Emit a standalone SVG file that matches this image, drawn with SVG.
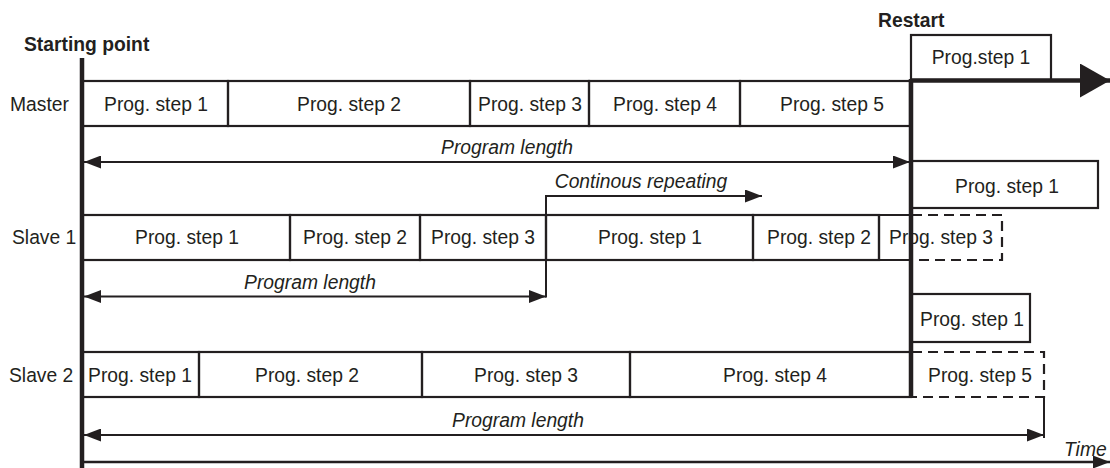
<svg xmlns="http://www.w3.org/2000/svg" width="1110" height="468" viewBox="0 0 1110 468">
<style>
text{font-family:"Liberation Sans",Arial,sans-serif;font-size:19.3px;fill:#231f20}
.c{text-anchor:middle}
.b{font-weight:bold}
.i{font-style:italic}
.box{fill:none;stroke:#231f20;stroke-width:2.2}
.dash{fill:none;stroke:#231f20;stroke-width:2.2;stroke-dasharray:10 6}
.ln{fill:none;stroke:#231f20;stroke-width:2}
.thick{fill:none;stroke:#231f20;stroke-width:4.5}
</style>
<defs>
<marker id="ah" viewBox="0 0 17 13" refX="17" refY="6.5" markerWidth="17" markerHeight="13" markerUnits="userSpaceOnUse" orient="auto-start-reverse">
<path d="M0,0 L17,6.5 L0,13 z" fill="#231f20"/>
</marker>
<marker id="big" viewBox="0 0 30 34" refX="30" refY="17" markerWidth="30" markerHeight="34" markerUnits="userSpaceOnUse" orient="auto">
<path d="M0,0 L30,17 L0,34 z" fill="#231f20"/>
</marker>
</defs>
<rect width="1110" height="468" fill="#fff"/>

<g id="labels">
<text class="b" x="24" y="51">Starting point</text>
<text class="b" x="878" y="27">Restart</text>
<text x="10" y="111">Master</text>
<text x="12" y="244">Slave 1</text>
<text x="9" y="382">Slave 2</text>
<text class="i" x="1064" y="456">Time</text>
</g>

<g id="master">
<g id="m1"><rect class="box" x="82" y="81" width="146" height="45"/><text class="c" x="156" y="111">Prog. step 1</text></g>
<g id="m2"><rect class="box" x="228" y="81" width="242" height="45"/><text class="c" x="349" y="111">Prog. step 2</text></g>
<g id="m3"><rect class="box" x="470" y="81" width="119" height="45"/><text class="c" x="530" y="111">Prog. step 3</text></g>
<g id="m4"><rect class="box" x="589" y="81" width="151" height="45"/><text class="c" x="665" y="111">Prog. step 4</text></g>
<g id="m5"><rect class="box" x="740" y="81" width="170" height="45"/><text class="c" x="832" y="111">Prog. step 5</text></g>
<g id="mr1"><rect class="box" x="911" y="35" width="140" height="45"/><text class="c" x="981" y="64">Prog.step 1</text></g>
</g>

<g id="slave1">
<g id="s1a"><rect class="box" x="82" y="215" width="208" height="45"/><text class="c" x="187" y="244">Prog. step 1</text></g>
<g id="s1b"><rect class="box" x="290" y="215" width="130" height="45"/><text class="c" x="355" y="244">Prog. step 2</text></g>
<g id="s1c"><rect class="box" x="420" y="215" width="126" height="45"/><text class="c" x="483" y="244">Prog. step 3</text></g>
<g id="s1d"><rect class="box" x="546" y="215" width="207" height="45"/><text class="c" x="650" y="244">Prog. step 1</text></g>
<g id="s1e"><rect class="box" x="753" y="215" width="126" height="45"/><text class="c" x="819" y="244">Prog. step 2</text></g>
<g id="s1f"><path class="box" d="M879,215 V260 M879,215 H912 M879,260 H912"/><path class="dash" d="M912,215 H1002 V260 H912"/><text class="c" x="941" y="244">Prog. step 3</text></g>
<g id="s1r"><rect class="box" x="911" y="161" width="187" height="47"/><text class="c" x="1007" y="193">Prog. step 1</text></g>
</g>

<g id="slave2">
<g id="s2a"><rect class="box" x="82" y="352" width="117" height="45"/><text class="c" x="140" y="382">Prog. step 1</text></g>
<g id="s2b"><rect class="box" x="199" y="352" width="223" height="45"/><text class="c" x="307" y="382">Prog. step 2</text></g>
<g id="s2c"><rect class="box" x="422" y="352" width="208" height="45"/><text class="c" x="526" y="382">Prog. step 3</text></g>
<g id="s2d"><rect class="box" x="630" y="352" width="281" height="45"/><text class="c" x="775" y="382">Prog. step 4</text></g>
<g id="s2e"><path class="dash" d="M912,352 H1044 V397 H912"/><text class="c" x="980" y="382">Prog. step 5</text></g>
<g id="s2r"><rect class="box" x="911" y="294" width="119" height="48"/><text class="c" x="972" y="326">Prog. step 1</text></g>
</g>

<g id="connectors">
<line class="thick" x1="82" y1="58" x2="82" y2="468"/>
<line class="thick" x1="911" y1="79" x2="911" y2="398"/>
<line x1="911" y1="80.5" x2="1110" y2="80.5" stroke="#231f20" stroke-width="4.5" marker-end="url(#big)"/>
<line class="ln" x1="84" y1="162" x2="910" y2="162" marker-start="url(#ah)" marker-end="url(#ah)"/>
<text class="i c" x="507" y="154">Program length</text>
<line class="ln" x1="84" y1="296.5" x2="546" y2="296.5" marker-start="url(#ah)" marker-end="url(#ah)"/>
<text class="i c" x="310" y="289">Program length</text>
<path class="ln" d="M546,297.5 V196 H762" marker-end="url(#ah)"/>
<text class="i c" x="641" y="188">Continous repeating</text>
<line class="ln" x1="84" y1="435" x2="1044" y2="435" marker-start="url(#ah)" marker-end="url(#ah)"/>
<line class="ln" x1="1044" y1="397" x2="1044" y2="438"/>
<text class="i c" x="518" y="427">Program length</text>
<line x1="82" y1="462" x2="1110" y2="462" stroke="#231f20" stroke-width="2.5" marker-end="url(#ah)"/>
</g>
</svg>
